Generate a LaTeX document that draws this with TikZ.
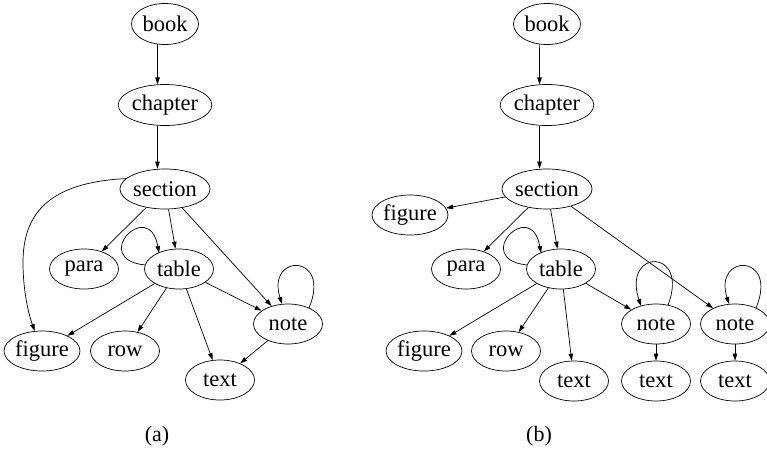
\documentclass[tikz,border=0pt]{standalone}
\usepackage{fontspec}
\setmainfont{Liberation Serif}
\usetikzlibrary{shapes.geometric,arrows.meta,calc}
\begin{document}
\begin{tikzpicture}[x=1pt,y=-1pt,
  nd/.style={draw,ellipse,inner sep=0pt,minimum width=69pt,minimum height=40pt,font=\fontsize{22.5}{22.5}\selectfont,line width=0.7pt},
  tall/.style={minimum width=67pt,minimum height=41pt},
  edge/.style={-{Triangle[length=7pt,width=4.5pt]},line width=0.7pt},
  captext/.style={font=\fontsize{22}{22}\selectfont}]
\useasboundingbox (0,0) rectangle (767,450);
% ---------- (a) ----------
\node[nd,tall] (bookA) at (165,24) {book};
\node[nd,tall] (chapA) at (165,105) {chapter};
\node[nd] (secA) at (165,189) {section};
\node[nd] (paraA) at (84,269) {para};
\node[nd] (tabA) at (179,269) {table};
\node[nd] (noteA) at (288,324) {note};
\node[nd] (figA) at (42,351) {figure};
\node[nd] (rowA) at (125,351) {row};
\node[nd] (textA) at (220,380) {text};
\node[captext] (capA) at (157,436) {(a)};
\draw[edge] (bookA.-110) -- (chapA.110);
\draw[edge] (chapA.-110) -- (chapA.-110 |- secA.north);
\draw[edge] (secA.165) .. controls (60,182) and (23,205) .. (23,262) .. controls (23,295) and (30,318) .. (figA.110);
\draw[edge] (secA) -- (paraA);
\draw[edge] (secA) -- (tabA);
\draw[edge] (secA) -- (noteA);
\draw[edge] ($(tabA)+(-34,-4)$) .. controls ($(tabA)+(-90,-10)$) and ($(tabA)+(-30,-72)$) .. ($(tabA)+(-20,-16)$);
\draw[edge] (tabA) -- (figA);
\draw[edge] (tabA) -- (rowA);
\draw[edge] (tabA) -- (textA);
\draw[edge] (tabA) -- (noteA);
\draw[edge] ($(noteA)+(21,-16)$) .. controls ($(noteA)+(44,-71)$) and ($(noteA)+(-22,-71)$) .. ($(noteA)+(-6,-20)$);
\draw[edge] (noteA) -- (textA);
% ---------- (b) ----------
\node[nd,tall] (bookB) at (547,24) {book};
\node[nd,tall] (chapB) at (547,105) {chapter};
\node[nd] (secB) at (547,189) {section};
\node[nd] (figBa) at (410,215) {figure};
\node[nd] (paraB) at (466,269) {para};
\node[nd] (tabB) at (561,269) {table};
\node[nd] (noteBa) at (656,324) {note};
\node[nd] (noteBb) at (735,324) {note};
\node[nd] (figBb) at (424,351) {figure};
\node[nd] (rowB) at (506,351) {row};
\node[nd] (textBa) at (574,381) {text};
\node[nd] (textBb) at (656,381) {text};
\node[nd] (textBc) at (735,381) {text};
\node[captext] (capB) at (539,436) {(b)};
\draw[edge] (bookB.-110) -- (chapB.110);
\draw[edge] (chapB.-110) -- (chapB.-110 |- secB.north);
\draw[edge] (secB) -- (figBa);
\draw[edge] (secB) -- (paraB);
\draw[edge] (secB) -- (tabB);
\draw[edge] (secB) -- (noteBb);
\draw[edge] ($(tabB)+(-34,-4)$) .. controls ($(tabB)+(-90,-10)$) and ($(tabB)+(-30,-72)$) .. ($(tabB)+(-20,-16)$);
\draw[edge] (tabB) -- (figBb);
\draw[edge] (tabB) -- (rowB);
\draw[edge] (tabB) -- (textBa);
\draw[edge] (tabB) -- (noteBa);
\draw[edge] ($(noteBa)+(12,-19)$) .. controls ($(noteBa)+(34,-76)$) and ($(noteBa)+(-34,-76)$) .. ($(noteBa)+(-15,-18)$);
\draw[edge] (noteBa) -- (textBb);
\draw[edge] ($(noteBb)+(21,-16)$) .. controls ($(noteBb)+(44,-71)$) and ($(noteBb)+(-22,-71)$) .. ($(noteBb)+(-6,-20)$);
\draw[edge] (noteBb) -- (textBc);
\end{tikzpicture}
\end{document}
